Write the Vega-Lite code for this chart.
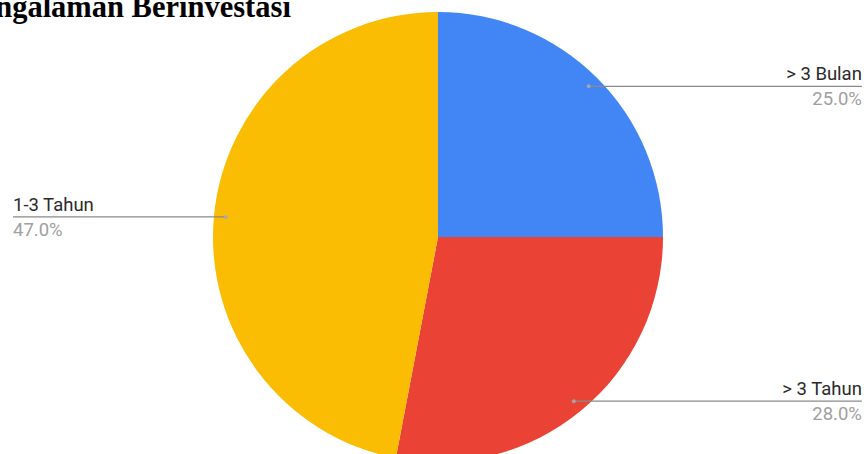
{
  "$schema": "https://vega.github.io/schema/vega-lite/v6.json",
  "width": 867,
  "height": 454,
  "autosize": "none",
  "padding": 0,
  "background": "white",
  "title": {
    "text": "Pengalaman Berinvestasi",
    "anchor": "start",
    "frame": "group",
    "font": "Liberation Serif",
    "fontSize": 30.5,
    "fontWeight": "bold",
    "color": "#000000",
    "baseline": "alphabetic",
    "offset": 0,
    "dx": -37,
    "dy": 47
  },
  "data": {
    "values": [
      {"kategori": "> 3 Bulan", "persen": 25, "urutan": 1},
      {"kategori": "> 3 Tahun", "persen": 28, "urutan": 2},
      {"kategori": "1-3 Tahun", "persen": 47, "urutan": 3}
    ]
  },
  "transform": [
    {"joinaggregate": [{"op": "sum", "field": "persen", "as": "total"}]},
    {"stack": "persen", "groupby": [], "sort": [{"field": "urutan"}], "as": ["s0", "s1"]},
    {"calculate": "datum.persen / datum.total", "as": "frac"},
    {"calculate": "PI * (datum.s0 + datum.s1) / datum.total", "as": "mid"},
    {"calculate": "0.947 * sin(datum.mid)", "as": "px"},
    {"calculate": "0.947 * cos(datum.mid)", "as": "py"},
    {"calculate": "datum.px > 0 ? 1.884 : -1.889", "as": "ex"}
  ],
  "layer": [
    {
      "mark": {"type": "arc", "outerRadius": 225},
      "encoding": {
        "theta": {"field": "persen", "type": "quantitative", "stack": true},
        "order": {"field": "urutan", "type": "quantitative"},
        "color": {
          "field": "kategori",
          "type": "nominal",
          "scale": {"domain": ["> 3 Bulan", "> 3 Tahun", "1-3 Tahun"], "range": ["#4285F4", "#EA4335", "#FBBC04"]},
          "legend": null
        },
        "x": {"datum": 0, "type": "quantitative", "scale": {"domain": [-1.9467, 1.9067], "nice": false, "zero": false}, "axis": null},
        "y": {"datum": 0, "type": "quantitative", "scale": {"domain": [-0.9644, 1.0533], "nice": false, "zero": false}, "axis": null}
      }
    },
    {
      "mark": {"type": "rule", "color": "#8a8a8a", "strokeWidth": 1.3},
      "encoding": {
        "x": {"field": "px", "type": "quantitative", "axis": null},
        "x2": {"field": "ex"},
        "y": {"field": "py", "type": "quantitative", "axis": null}
      }
    },
    {
      "mark": {"type": "circle", "size": 16, "color": "#a8a8a8", "opacity": 0.9},
      "encoding": {
        "x": {"field": "px", "type": "quantitative", "axis": null},
        "y": {"field": "py", "type": "quantitative", "axis": null}
      }
    },
    {
      "transform": [{"filter": "datum.px > 0"}],
      "mark": {"type": "text", "align": "right", "baseline": "alphabetic", "dy": -6, "font": "Roboto", "fontSize": 18.5, "color": "#2a2a2a"},
      "encoding": {
        "x": {"field": "ex", "type": "quantitative", "axis": null},
        "y": {"field": "py", "type": "quantitative", "axis": null},
        "text": {"field": "kategori"}
      }
    },
    {
      "transform": [{"filter": "datum.px > 0"}],
      "mark": {"type": "text", "align": "right", "baseline": "alphabetic", "dy": 19, "font": "Roboto", "fontSize": 18.5, "color": "#a0a0a0"},
      "encoding": {
        "x": {"field": "ex", "type": "quantitative", "axis": null},
        "y": {"field": "py", "type": "quantitative", "axis": null},
        "text": {"field": "frac", "type": "quantitative", "format": ".1%"}
      }
    },
    {
      "transform": [{"filter": "datum.px <= 0"}],
      "mark": {"type": "text", "align": "left", "baseline": "alphabetic", "dy": -6, "font": "Roboto", "fontSize": 18.5, "color": "#2a2a2a"},
      "encoding": {
        "x": {"field": "ex", "type": "quantitative", "axis": null},
        "y": {"field": "py", "type": "quantitative", "axis": null},
        "text": {"field": "kategori"}
      }
    },
    {
      "transform": [{"filter": "datum.px <= 0"}],
      "mark": {"type": "text", "align": "left", "baseline": "alphabetic", "dy": 19, "font": "Roboto", "fontSize": 18.5, "color": "#a0a0a0"},
      "encoding": {
        "x": {"field": "ex", "type": "quantitative", "axis": null},
        "y": {"field": "py", "type": "quantitative", "axis": null},
        "text": {"field": "frac", "type": "quantitative", "format": ".1%"}
      }
    }
  ],
  "config": {"view": {"stroke": null}}
}
